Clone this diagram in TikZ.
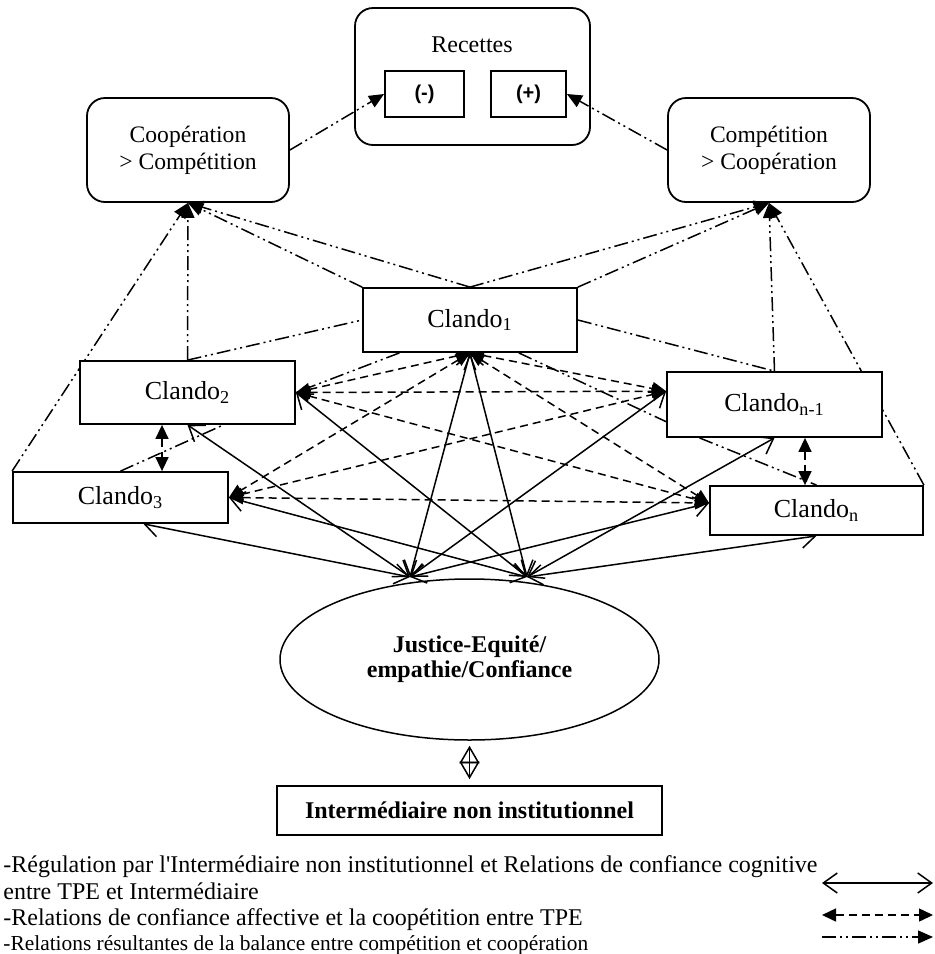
\documentclass[tikz,border=0pt]{standalone}
\usepackage{fontspec}
\setmainfont{Liberation Serif}
\setsansfont{Liberation Sans}
\usetikzlibrary{arrows.meta,shapes.geometric,calc,positioning}
\pgfdeclarelayer{bg}
\pgfsetlayers{bg,main}

\begin{document}
\begin{tikzpicture}[x=0.5pt,y=-0.5pt,
  box/.style={draw,line width=0.9pt,fill=white,inner sep=0pt,font=\fontsize{13}{15}\selectfont},
  rbox/.style={draw,line width=0.9pt,rounded corners=9pt,inner sep=0pt,align=center,font=\fontsize{11.8}{13.5}\selectfont},
  regul/.style={line width=0.75pt,{Straight Barb[length=7pt,width=10pt]}-{Straight Barb[length=7pt,width=10pt]}},
  affect/.style={line width=0.75pt,dash pattern=on 4pt off 2.5pt,{Triangle[length=7pt,width=6.5pt]}-{Triangle[length=7pt,width=6.5pt]}},
  result/.style={line width=0.75pt,dash pattern=on 7pt off 2pt on 1pt off 2pt on 1pt off 2pt},
  resultarr/.style={result,-{Triangle[length=7.5pt,width=6.5pt]}},
  legend/.style={anchor=base west,inner sep=0pt,font=\fontsize{12}{14}\selectfont}]

\useasboundingbox (0,0) rectangle (935,954);

% Recettes
\node[rbox,minimum width=117.5pt,minimum height=68.5pt] (rec) at (472.5,76.5) {};
\node[font=\fontsize{12}{14}\selectfont] (rectitle) at (472,45) {Recettes};
\node[box,font=\sffamily\bfseries\fontsize{10}{12}\selectfont,minimum width=39.5pt,minimum height=23pt] (minus) at (424.5,94) {(-)};
\node[box,font=\sffamily\bfseries\fontsize{10}{12}\selectfont,minimum width=37.5pt,minimum height=23pt] (plus) at (528.5,94) {(+)};

% balance boxes
\node[rbox,minimum width=101pt,minimum height=52pt] (coop) at (188,150) {Coopération\\> Compétition};
\node[rbox,minimum width=101pt,minimum height=52pt] (compet) at (769,150) {Compétition\\> Coopération};

% Clandos
\node[box,minimum width=107pt,minimum height=32pt] (c1) at (470,320) {Clando\textsubscript{1}};
\node[box,minimum width=107.5pt,minimum height=31.5pt] (c2) at (187.5,392.5) {Clando\textsubscript{2}};
\node[box,minimum width=107.5pt,minimum height=25.5pt] (c3) at (120.5,497.5) {Clando\textsubscript{3}};
\node[box,minimum width=107.5pt,minimum height=32.5pt] (cn1) at (774.5,404.5) {Clando\textsubscript{n-1}};
\node[box,minimum width=106.5pt,minimum height=24.5pt] (cn) at (816.5,510.5) {Clando\textsubscript{n}};

% Justice and intermediary
\node[ellipse,draw,line width=0.75pt,minimum width=189.5pt,minimum height=80.5pt,inner sep=0pt,align=center,font=\bfseries\fontsize{12}{12.5}\selectfont] (just) at (469.5,659.5) {Justice-Equité/\\empathie/Confiance};
\node[box,minimum width=192.5pt,minimum height=24.5pt,font=\bfseries\fontsize{12}{14}\selectfont] (inter) at (469.5,810.5) {Intermédiaire non institutionnel};

% Points on the ellipse
\coordinate (jL) at (410,577);
\coordinate (jR) at (527,577);
\coordinate (v23) at (162,0);
\coordinate (vn) at (805,0);

\begin{pgfonlayer}{bg}
% regulation
\foreach \t in {c1.south,c2.south,c3.-49,cn1.173,cn.176}
  \draw[regul] (jL) -- (\t);
\foreach \t in {c1.south,c2.east,c3.east,cn1.south,cn.south}
  \draw[regul] (jR) -- (\t);

% affective trust
\foreach \t in {c2.east,c3.east,cn1.173,cn.176}
  \draw[affect] (c1.south) -- (\t);
\draw[affect] (c2.east) -- (cn1.173);
\draw[affect] (c3.east) -- (cn.176);
\draw[affect] (c2.east) -- (cn.176);
\draw[affect] (c3.east) -- (cn1.173);
\draw[affect] (v23 |- c2.south) -- (v23 |- c3.north);
\draw[affect] (vn |- cn1.south) -- (vn |- cn.north);

% balance
\foreach \s in {c3.north west,c2.north,c1.north west,c1.north}
  \draw[resultarr] (\s) -- (coop.south);
\foreach \s in {c1.north,c1.north east,cn1.north,cn.north east}
  \draw[resultarr] (\s) -- (compet.south);
\draw[resultarr] (coop.east) -- (minus.west);
\draw[resultarr] (compet.west) -- (plus.east);
\draw[result] (c2.north) -- (c1.west);
\draw[result] (c1.east) -- (cn1.north);
\draw[result] (c3.north) -- (c2.-42);
\draw[result] (cn1.204) -- (cn.north);
\draw[result] (c1.205) -- (c2.east);
\draw[result] (c1.-34) -- (cn1.189);
\end{pgfonlayer}

% diamond link
\draw[line width=0.75pt,{Triangle[open,length=8.75pt,width=10pt]}-{Triangle[open,length=8.75pt,width=10pt]},shorten <=2.5pt,shorten >=3pt] (just.south) -- (inter.north);
\draw[line width=0.75pt,shorten <=2.5pt,shorten >=3pt] (just.south) -- (inter.north);

% Legend
\node[legend] (lg1) at (3,872) {-Régulation par l\textquotesingle Intermédiaire non institutionnel et Relations de confiance cognitive};
\node[legend] (lg2) at (3,899) {entre TPE et Intermédiaire};
\node[legend] (lg3) at (3,925) {-Relations de confiance affective et la coopétition entre TPE};
\node[legend,font=\fontsize{10.7}{12}\selectfont] (lg4) at (3,950) {-Relations résultantes de la balance entre compétition et coopération};

\coordinate (a1) at (822,883);
\coordinate (b1) at (933,883);
\coordinate (a2) at (822,915);
\coordinate (b2) at (933,915);
\coordinate (a3) at (822,937);
\coordinate (b3) at (933,937);
\draw[regul] (a1) -- (b1);
\draw[affect] (a2) -- (b2);
\draw[resultarr] (a3) -- (b3);

\end{tikzpicture}
\end{document}
